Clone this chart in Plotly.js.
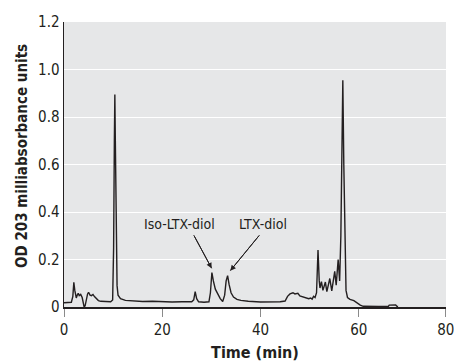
<!DOCTYPE html>
<html>
<head>
<meta charset="utf-8">
<script src="https://cdn.plot.ly/plotly-3.0.1.min.js"></script>
<style>
  html, body { margin: 0; padding: 0; background: #ffffff; }
  #chart { width: 454px; height: 362px; }
</style>
</head>
<body>
<div id="chart"></div>
<script>
// Chromatogram: time (min) vs OD 203 milliabsorbance units
const timeMin = [
  0.0, 0.8, 1.5, 1.8, 2.0, 2.2, 2.5, 2.7, 2.9, 3.1, 3.4, 3.7, 3.9, 4.1, 4.3, 4.5, 4.8, 5.0, 5.3, 5.6,
  5.9, 6.2, 6.6, 7.0, 7.5, 8.5, 9.5, 9.9, 10.1, 10.25, 10.35, 10.45, 10.6, 10.8, 11.0, 11.5, 12.5, 14,
  16, 18, 20, 22, 24, 26, 26.4, 26.7, 27.0, 27.4, 28.5, 29.5, 29.8, 30.1, 30.4, 30.8, 31.3, 31.8, 32.3,
  32.7, 33.0, 33.3, 33.6, 34.0, 34.5, 35.2, 36, 37.5, 40, 42, 44, 45, 45.5, 46.0, 46.6, 47.0, 47.6,
  48.0, 48.6, 49.2, 49.8, 50.2, 50.5, 50.8, 51.1, 51.4, 51.7, 51.95, 52.1, 52.4, 52.7, 53.2, 53.5,
  54.1, 54.5, 55.1, 55.4, 55.8, 56.1, 56.35, 56.55, 56.75, 56.95, 57.15, 57.4, 57.7, 58.2, 59.0, 59.6,
  60.3, 60.9, 62, 64, 66.0, 66.2, 67.5, 67.7, 68.0
];
const od203 = [
  0.018, 0.018, 0.02, 0.045, 0.104, 0.07, 0.038, 0.05, 0.058, 0.048, 0.053, 0.04, 0.02, 0.0, 0.005, 0.03, 0.055, 0.062, 0.05, 0.048,
  0.053, 0.044, 0.034, 0.027, 0.024, 0.022, 0.022, 0.03, 0.25, 0.7, 0.895, 0.7, 0.3, 0.09, 0.05, 0.035, 0.028, 0.025,
  0.023, 0.024, 0.022, 0.021, 0.022, 0.022, 0.03, 0.065, 0.035, 0.022, 0.02, 0.022, 0.06, 0.145, 0.11, 0.075, 0.055, 0.035, 0.023,
  0.05, 0.11, 0.132, 0.095, 0.06, 0.042, 0.032, 0.028, 0.024, 0.021, 0.02, 0.022, 0.025, 0.045, 0.055, 0.06, 0.055, 0.058,
  0.047, 0.044, 0.04, 0.035, 0.038, 0.033, 0.045, 0.04, 0.06, 0.24, 0.11, 0.08, 0.107, 0.07, 0.105, 0.065,
  0.12, 0.068, 0.15, 0.092, 0.2, 0.11, 0.3, 0.7, 0.955, 0.6, 0.25, 0.07, 0.04, 0.032, 0.027, 0.018,
  0.008, 0.003, 0.002, 0.002, 0.002, 0.008, 0.009, 0.004, 0.002
];

const xTickVals = [0, 20, 40, 60, 77.7];
const xTickText = ['0', '20', '40', '60', '80'];
const yTickVals = [0, 0.2, 0.4, 0.6, 0.8, 1.0, 1.2];
const yTickText = ['0', '0.2', '0.4', '0.6', '0.8', '1.0', '1.2'];

const peakLabels = ['Iso-LTX-diol', 'LTX-diol'];
const labelPos = [[23.5, 0.349], [40.6, 0.349]];
const arrowTips = [[30.05, 0.163], [33.85, 0.153]];
const arrowTails = [[26.4, 0.303], [39.8, 0.303]];

const FONT = '"DejaVu Sans Condensed", "Liberation Sans Narrow", "Arial Narrow", sans-serif';
const INK = '#231f20';

const annotations = [];
const shapes = [];
peakLabels.forEach((lab, i) => {
  annotations.push({
    x: labelPos[i][0], y: labelPos[i][1], xref: 'x', yref: 'y',
    text: lab, showarrow: false, xanchor: 'center', yanchor: 'middle',
    font: {family: FONT, size: 14, color: INK}
  });
  // arrow shaft
  shapes.push({
    type: 'line', xref: 'x', yref: 'y',
    x0: arrowTails[i][0], y0: arrowTails[i][1], x1: arrowTips[i][0], y1: arrowTips[i][1],
    line: {color: INK, width: 1}
  });
  // arrow head
  annotations.push({
    x: arrowTips[i][0], y: arrowTips[i][1], xref: 'x', yref: 'y',
    ax: arrowTails[i][0], ay: arrowTails[i][1], axref: 'x', ayref: 'y',
    text: '', width: 1, height: 1, showarrow: true, arrowhead: 2, arrowsize: 1.1, arrowwidth: 1,
    arrowcolor: INK, standoff: 0, startstandoff: 0, borderpad: 0,
    font: {family: FONT, size: 1, color: INK}
  });
});
annotations.push({
  x: -0.11, y: 0.53, xref: 'paper', yref: 'paper',
  text: '<b>OD 203 milliabsorbance units</b>', showarrow: false,
  textangle: -90, xanchor: 'center', yanchor: 'middle',
  font: {family: FONT, size: 15, color: INK}
});

const trace = {
  x: timeMin, y: od203, type: 'scatter', mode: 'lines',
  line: {color: INK, width: 1.4, shape: 'linear'},
  hoverinfo: 'skip'
};

const layout = {
  width: 454, height: 362,
  margin: {l: 64, r: 8, t: 22, b: 55},
  paper_bgcolor: '#ffffff',
  plot_bgcolor: '#e6e7e8',
  showlegend: false,
  font: {family: FONT, size: 14, color: INK},
  xaxis: {
    range: [0, 77.75], tickvals: xTickVals, ticktext: xTickText,
    showgrid: false, zeroline: false,
    showline: true, linecolor: INK, linewidth: 1.5,
    ticks: 'outside', ticklen: 8, tickwidth: 1, tickcolor: '#8a8a8a',
    ticklabeloverflow: 'allow',
    tickfont: {family: FONT, size: 15, color: INK},
    title: {text: '<b>Time (min)</b>', font: {family: FONT, size: 16, color: INK}, standoff: 9},
    fixedrange: true
  },
  yaxis: {
    range: [0, 1.2], tickvals: yTickVals, ticktext: yTickText,
    showgrid: true, gridcolor: '#ffffff', gridwidth: 1,
    zeroline: false,
    showline: true, linecolor: INK, linewidth: 1.5,
    ticks: '', tickfont: {family: FONT, size: 15, color: INK},
    fixedrange: true
  },
  shapes: shapes,
  annotations: annotations
};

Plotly.newPlot('chart', [trace], layout, {displayModeBar: false, staticPlot: true});
</script>
</body>
</html>
